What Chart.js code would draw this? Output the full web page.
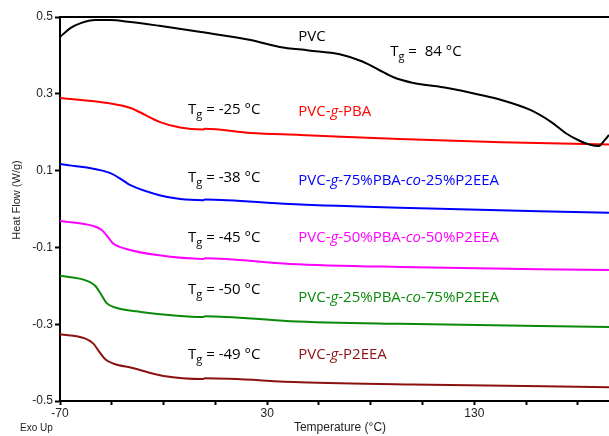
<!DOCTYPE html>
<html>
<head>
<meta charset="UTF-8" />
<title>DSC curves</title>
<script src="https://cdn.jsdelivr.net/npm/chart.js"></script>
<style>
  body{margin:0;background:#fff;}
  #wrap{width:609px;height:436px;}
</style>
</head>
<body>
<div id="wrap"><canvas id="dsc" width="609" height="436"></canvas></div>
<script>
// ---- data (temperature °C, heat flow W/g) ----
const pvcT   = [-70,-65,-60,-53,-46,-36,-22,-2,22,36,50,65,76,84,91,100,117,133,143,157,167,174,181,186,190,193,195];
const pvcV   = [0.448,0.471,0.484,0.492,0.492,0.487,0.477,0.461,0.440,0.422,0.413,0.403,0.384,0.362,0.343,0.329,0.315,0.297,0.284,0.258,0.227,0.198,0.177,0.167,0.164,0.180,0.193];

const pbaT   = [-70,-47,-36,-22,-12,-1,0,22,46,94,143,195];
const pbaV   = [0.289,0.276,0.263,0.227,0.212,0.207,0.209,0.198,0.193,0.182,0.174,0.168];

const p75T   = [-70,-46,-40,-36,-22,-12,-1,0,41,94,195];
const p75V   = [0.117,0.094,0.076,0.062,0.036,0.026,0.023,0.025,0.013,0.003,-0.010];

const p50T   = [-70,-54,-50,-47,-44.5,-38,-23,-1,0,41,94,195];
const p50V   = [-0.031,-0.044,-0.054,-0.072,-0.089,-0.104,-0.120,-0.130,-0.128,-0.143,-0.151,-0.159];

const p25T   = [-70,-57,-53,-50,-47.5,-42.5,-31,-1,0,41,94,195];
const p25V   = [-0.174,-0.187,-0.200,-0.224,-0.245,-0.258,-0.268,-0.281,-0.279,-0.292,-0.299,-0.307];

const p2eeaT = [-70,-58,-54,-51,-48,-44,-35,-20,-1,0,46,100,195];
const p2eeaV = [-0.326,-0.337,-0.350,-0.372,-0.392,-0.403,-0.414,-0.435,-0.443,-0.441,-0.451,-0.457,-0.464];

const xTicks = [-70,-45,-20,5,30,55,80,105,130,155,180];
const xLabels = [-70,30,130];
const yTicks = [-0.5,-0.3,-0.1,0.1,0.3,0.5];

// series labels: text pieces (italic flag), colour, anchor in data units
const seriesNames = [
  [["PVC"]],
  [["PVC-"],["g",1],["-PBA"]],
  [["PVC-"],["g",1],["-75%PBA-"],["co",1],["-25%P2EEA"]],
  [["PVC-"],["g",1],["-50%PBA-"],["co",1],["-50%P2EEA"]],
  [["PVC-"],["g",1],["-25%PBA-"],["co",1],["-75%P2EEA"]],
  [["PVC-"],["g",1],["-P2EEA"]]
];
const seriesColors = ["#000000","#ff0000","#0000ff","#ff00ff","#0a8a0a","#8b1010"];
const nameX = [45,45,45,45,45,45];
const nameY = [0.448,0.253,0.073,-0.076,-0.232,-0.380];
const tgText = ["84 °C","-25 °C","-38 °C","-45 °C","-50 °C","-49 °C"];
const tgX = [89.4,-8.2,-8.2,-8.2,-8.2,-8.2];
const tgY = [0.409,0.258,0.081,-0.076,-0.211,-0.380];

const toXY = (t, v) => t.map((x, i) => ({x, y: v[i]}));
const allT = [pvcT,pbaT,p75T,p50T,p25T,p2eeaT];
const allV = [pvcV,pbaV,p75V,p50V,p25V,p2eeaV];

const LABEL_FONT = "'Open Sans', sans-serif";
const AXIS_FONT = "'Liberation Sans', Arial, sans-serif";

const annot = {
  id: "annot",
  afterDraw(chart){
    const {ctx, chartArea, scales:{x, y}} = chart;
    ctx.save();
    // top frame line
    ctx.strokeStyle = "#000"; ctx.lineWidth = 2;
    ctx.beginPath(); ctx.moveTo(chartArea.left, chartArea.top); ctx.lineTo(chartArea.right, chartArea.top); ctx.stroke();

    ctx.textBaseline = "middle";
    // series names
    seriesNames.forEach((parts, i) => {
      let px = x.getPixelForValue(nameX[i]);
      const py = y.getPixelForValue(nameY[i]);
      ctx.fillStyle = seriesColors[i];
      ctx.textAlign = "left";
      parts.forEach(([t, it]) => {
        ctx.font = (it ? "italic " : "") + "15px " + LABEL_FONT;
        ctx.fillText(t, px, py);
        px += ctx.measureText(t).width;
      });
    });
    // Tg labels
    ctx.fillStyle = "#000";
    tgText.forEach((t, i) => {
      let px = x.getPixelForValue(tgX[i]);
      const py = y.getPixelForValue(tgY[i]);
      ctx.font = "15px " + LABEL_FONT;
      ctx.fillText("T", px, py);
      px += ctx.measureText("T").width;
      ctx.font = "11px " + LABEL_FONT;
      ctx.fillText("g", px, py + 5);
      px += ctx.measureText("g").width;
      ctx.font = "15px " + LABEL_FONT;
      ctx.fillText((i === 0 ? " =  " : " = ") + t, px, py);
    });
    // axis titles
    ctx.fillStyle = "#222";
    ctx.font = "12px " + AXIS_FONT;
    ctx.textAlign = "center";
    ctx.fillText("Temperature (°C)", 340, 428);
    ctx.save();
    ctx.font = "11px " + AXIS_FONT;
    ctx.translate(17, 200); ctx.rotate(-Math.PI/2);
    ctx.fillText("Heat Flow (W/g)", 0, 0);
    ctx.restore();
    ctx.font = "10px " + AXIS_FONT;
    ctx.textAlign = "left";
    ctx.fillText("Exo Up", 20, 428);
    ctx.restore();
  }
};

new Chart(document.getElementById("dsc"), {
  type: "line",
  data: {
    datasets: allT.map((t, i) => ({
      data: toXY(t, allV[i]),
      borderColor: seriesColors[i],
      borderWidth: 2,
      pointRadius: 0,
      cubicInterpolationMode: "monotone",
      fill: false
    }))
  },
  options: {
    responsive: false,
    animation: false,
    layout: { padding: { top: 17, right: 0, left: 0, bottom: 0 } },
    plugins: { legend: { display: false }, tooltip: { enabled: false } },
    scales: {
      x: {
        type: "linear", min: -70, max: 195,
        afterBuildTicks: s => { s.ticks = xTicks.map(v => ({value: v})); },
        afterFit: s => { s.height = 35; },
        grid: { drawOnChartArea: false, tickLength: 4, color: "#000", tickWidth: 2 },
        border: { color: "#000", width: 2 },
        ticks: {
          autoSkip: false, maxRotation: 0, padding: 1, color: "#222",
          font: { family: AXIS_FONT, size: 12 },
          callback: v => xLabels.includes(v) ? String(v) : ""
        }
      },
      y: {
        type: "linear", min: -0.5, max: 0.5,
        afterBuildTicks: s => { s.ticks = yTicks.map(v => ({value: v})); },
        afterFit: s => { s.width = 60; },
        grid: { drawOnChartArea: false, tickLength: 5, color: "#000", tickWidth: 2 },
        border: { color: "#000", width: 2 },
        ticks: {
          padding: 2, color: "#222",
          font: { family: AXIS_FONT, size: 12 },
          callback: v => v.toFixed(1)
        }
      }
    }
  },
  plugins: [annot]
});
</script>
</body>
</html>
